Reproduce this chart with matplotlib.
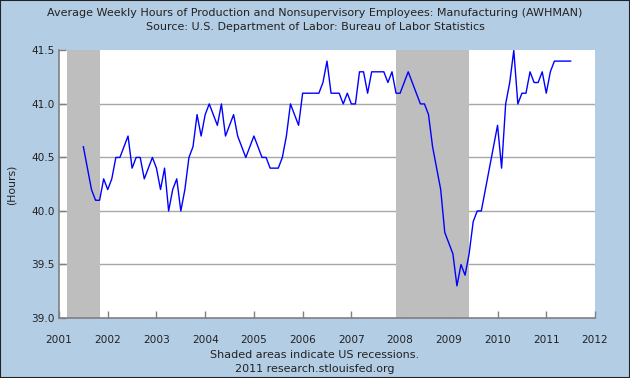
import matplotlib
matplotlib.use("Agg")
import matplotlib.pyplot as plt
import numpy as np
import pandas as pd
from matplotlib.patches import Rectangle

# monthly AWHMAN values, Jul 2001 - Jul 2011
hours = [
    40.6, 40.4, 40.2, 40.1, 40.1, 40.3, 40.2, 40.3, 40.5, 40.5,
    40.6, 40.7, 40.4, 40.5, 40.5, 40.3, 40.4, 40.5, 40.4, 40.2,
    40.4, 40.0, 40.2, 40.3, 40.0, 40.2, 40.5, 40.6, 40.9, 40.7,
    40.9, 41.0, 40.9, 40.8, 41.0, 40.7, 40.8, 40.9, 40.7, 40.6,
    40.5, 40.6, 40.7, 40.6, 40.5, 40.5, 40.4, 40.4, 40.4, 40.5,
    40.7, 41.0, 40.9, 40.8, 41.1, 41.1, 41.1, 41.1, 41.1, 41.2,
    41.4, 41.1, 41.1, 41.1, 41.0, 41.1, 41.0, 41.0, 41.3, 41.3,
    41.1, 41.3, 41.3, 41.3, 41.3, 41.2, 41.3, 41.1, 41.1, 41.2,
    41.3, 41.2, 41.1, 41.0, 41.0, 40.9, 40.6, 40.4, 40.2, 39.8,
    39.7, 39.6, 39.3, 39.5, 39.4, 39.6, 39.9, 40.0, 40.0, 40.2,
    40.4, 40.6, 40.8, 40.4, 41.0, 41.2, 41.5, 41.0, 41.1, 41.1,
    41.3, 41.2, 41.2, 41.3, 41.1, 41.3, 41.4, 41.4, 41.4, 41.4,
    41.4,
]
start_year = 2001.5  # July 2001
recessions = [(2001.167, 2001.833), (2007.917, 2009.417)]
year_ticks = list(range(2001, 2013))
y_ticks = [39.0, 39.5, 40.0, 40.5, 41.0, 41.5]

t = start_year + np.arange(len(hours)) / 12.0
s = pd.Series(hours, index=t)

bg = "#b3cde5"
fig = plt.figure(figsize=(6.3, 3.78), dpi=100, facecolor=bg)
ax = fig.add_axes([59 / 630, 1 - 318 / 378, (595 - 59) / 630, (318 - 50.4) / 378])
ax.set_facecolor("white")

# grid lines only inside the plot (not at top/bottom edge)
for yv in y_ticks[1:-1]:
    ax.axhline(yv, color="#a8a8a8", lw=1.0, zorder=1)
for a, b in recessions:
    ax.axvspan(a, b, color="#bebebe", lw=0, zorder=2)

ax.plot(s.index, s.values, color="#0000ff", lw=1.0, zorder=3)

ax.set_xlim(2001, 2012)
ax.set_ylim(39.0, 41.5)
ax.set_xticks(year_ticks)
ax.set_xticklabels([str(y) for y in year_ticks])
ax.set_yticks(y_ticks)
ax.set_yticklabels([f"{v:.1f}" for v in y_ticks])
ax.tick_params(axis="both", direction="in", length=5, width=1, color="#808080",
               labelsize=7.6, labelcolor="#222222")
ax.tick_params(axis="x", pad=12)
ax.tick_params(axis="y", pad=3)
for side in ["top", "right"]:
    ax.spines[side].set_visible(False)
for side in ["left", "bottom"]:
    ax.spines[side].set_color("#808080")
    ax.spines[side].set_linewidth(1.2)

fig.text(12 / 630, 1 - 185 / 378, "(Hours)", rotation=90, ha="center", va="center",
         fontsize=7.8, color="#222222")

fig.text(0.5, 1 - 13 / 378,
         "Average Weekly Hours of Production and Nonsupervisory Employees: Manufacturing (AWHMAN)",
         ha="center", va="center", fontsize=8, color="#222222")
fig.text(0.5, 1 - 27 / 378, "Source: U.S. Department of Labor: Bureau of Labor Statistics",
         ha="center", va="center", fontsize=8, color="#222222")
fig.text(0.5, 1 - 355 / 378, "Shaded areas indicate US recessions.",
         ha="center", va="center", fontsize=8, color="#222222")
fig.text(0.5, 1 - 369 / 378, "2011 research.stlouisfed.org",
         ha="center", va="center", fontsize=8, color="#222222")

fig.patches.append(Rectangle((0, 0), 1, 1, transform=fig.transFigure, fill=False,
                             edgecolor="#222222", lw=1.5))

fig.savefig("out.png", dpi=100, facecolor=bg)
